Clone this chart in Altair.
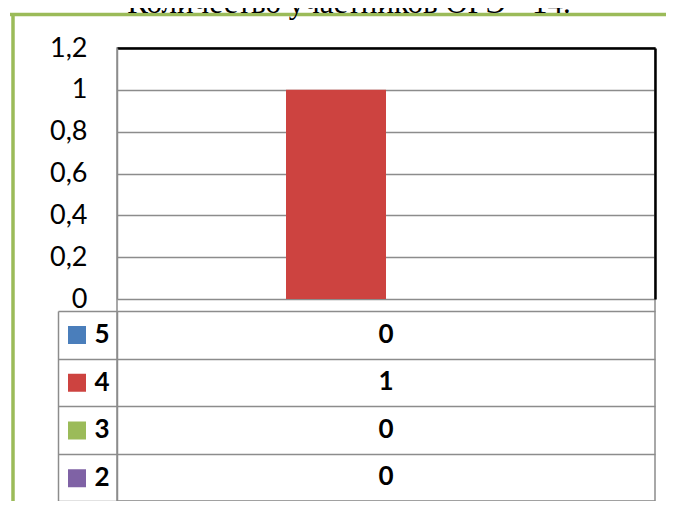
import altair as alt
import pandas as pd

# ---- data ----
series = ["5", "4", "3", "2"]
values = [0, 1, 0, 0]
colors = ["#4A7EBB", "#CD4340", "#9BBB59", "#7F62A5"]
y_ticks = [0, 0.2, 0.4, 0.6, 0.8, 1.0, 1.2]
title_text = "Количество участников ОГЭ - 14."

df = pd.DataFrame({"series": series, "value": values})
frame_df = pd.DataFrame({"k": [0]})

FONT = "Lato"
GRID = "#8C8C8C"
GREEN = "#9BBB59"
PLOT_H = 251
TABLE_TOP = 263
TABLE_BOTTOM = 453

bars = alt.Chart(df).mark_bar().encode(
    x=alt.X("series:N", sort=series,
            scale=alt.Scale(paddingInner=0, paddingOuter=0.69),
            axis=alt.Axis(orient="top", labels=False, ticks=False, title=None,
                          domainColor="black", domainWidth=2.5, grid=False)),
    y=alt.Y("value:Q",
            scale=alt.Scale(domain=[0, 1.2], range=[PLOT_H, 0], nice=False),
            axis=alt.Axis(values=y_ticks,
                          labelExpr="replace(toString(datum.value), '.', ',')",
                          ticks=False, labelPadding=30, labelFont=FONT,
                          labelFontSize=27, labelColor="black",
                          domainColor=GRID, domainWidth=1.5,
                          gridColor=GRID, gridWidth=1.5, title=None)),
    color=alt.Color("series:N", sort=series,
                    scale=alt.Scale(domain=series, range=colors),
                    legend=alt.Legend(orient="none", legendX=-49, legendY=278,
                                      direction="vertical", title=None,
                                      symbolType="square", symbolSize=324,
                                      symbolStrokeWidth=0, labelExpr="''",
                                      labelFontSize=1, rowPadding=29.75,
                                      padding=0, offset=0)),
)

right_border = alt.Chart(df).mark_point(opacity=0).encode(
    y=alt.Y("value:Q",
            scale=alt.Scale(domain=[0, 1.2], range=[PLOT_H, 0], nice=False),
            axis=alt.Axis(orient="right", labels=False, ticks=False, grid=False,
                          title=None, domainColor="black", domainWidth=2.5)),
)

table = alt.Chart(df).mark_text(font=FONT, fontSize=26, fontWeight="bold",
                                color="black", baseline="middle").encode(
    y=alt.Y("series:N", sort=series,
            scale=alt.Scale(type="band", range=[TABLE_TOP, TABLE_BOTTOM],
                            paddingInner=0, paddingOuter=0),
            axis=alt.Axis(orient="left", title=None, labelFont=FONT,
                          labelFontSize=26, labelFontWeight="bold",
                          labelColor="black", labelPadding=-51, ticks=True,
                          tickSize=59, tickBand="extent", tickColor=GRID,
                          tickWidth=1.5, grid=True, gridColor=GRID,
                          gridWidth=1.5, domainColor=GRID, domainWidth=1.5)),
    text="value:Q",
)

left_border = alt.Chart(df).mark_text(opacity=0).encode(
    y=alt.Y("series:N", sort=series,
            scale=alt.Scale(type="band", range=[TABLE_TOP, TABLE_BOTTOM],
                            paddingInner=0, paddingOuter=0),
            axis=alt.Axis(orient="left", offset=59, labels=False, ticks=False,
                          grid=False, title=None, domainColor=GRID,
                          domainWidth=1.5)),
    text="value:Q",
)

frame_top = alt.Chart(frame_df).mark_rule(color=GREEN, strokeWidth=3.5).encode(
    x=alt.value(-107), x2=alt.value(560), y=alt.value(-33.5))
frame_left = alt.Chart(frame_df).mark_rule(color=GREEN, strokeWidth=3.5).encode(
    x=alt.value(-104), y=alt.value(-35), y2=alt.value(470))

title = alt.Chart(frame_df).mark_text(
    text=title_text, font="Liberation Serif", fontSize=31, color="black",
    align="center", baseline="alphabetic").encode(
    x=alt.value(232), y=alt.value(-35.5))

chart = alt.layer(
    frame_top, frame_left, title, bars, right_border, table, left_border
).resolve_scale(y="independent").resolve_axis(y="independent").properties(
    width=538,
    height=TABLE_BOTTOM,
    padding={"left": 109, "top": 40, "right": 11, "bottom": 0},
    autosize=alt.AutoSizeParams(type="none"),
).configure_view(stroke=GRID, strokeWidth=1.5)

chart.save("out.html", embed_options={"renderer": "svg", "actions": False})
